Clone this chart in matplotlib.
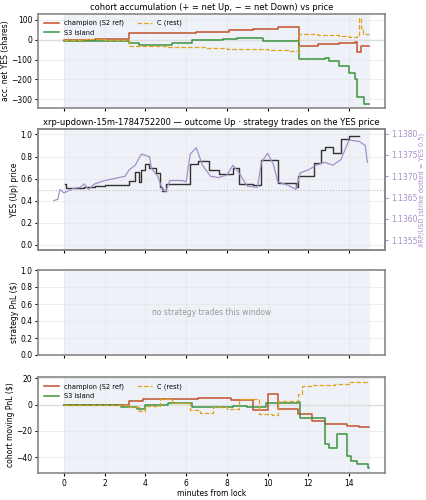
import matplotlib
matplotlib.use("Agg")
import matplotlib.pyplot as plt
import numpy as np

# panel 1: accumulation (step, post)
champ_t = [0, 1.5, 3.2, 6.5, 8.1, 9.3, 10.5, 11.55, 12.5, 13.5, 14.3, 14.4, 14.6, 15]
champ_v = [0, 5, 35, 40, 48, 55, 62, -30, -22, -15, -10, -60, -30, -30]
s3_t = [0, 3.2, 3.7, 5.3, 6.3, 7.8, 8.5, 9.0, 9.8, 11.55, 12.8, 13.0, 13.5, 14.0, 14.3, 14.4, 14.75, 15]
s3_v = [-8, -18, -25, -15, 0, 5, 10, 8, -5, -95, -90, -110, -135, -170, -200, -290, -325, -325]
c_t = [0, 1.0, 2.0, 3.2, 4.0, 5.0, 6.0, 7.0, 8.0, 9.0, 10.0, 11.0, 11.5, 11.55, 12.5, 13.0, 13.5, 14.0, 14.4, 14.5, 14.6, 14.7, 15]
c_v = [0, 2, -2, -30, -33, -38, -38, -42, -45, -48, -52, -56, -60, 30, 25, 22, 18, 15, 20, 110, 60, 30, 30]

# panel 2: YES price (step) and XRP/USD
yes_t = [0.05, 0.1, 1.0, 1.5, 2.0, 3.2, 3.5, 3.7, 3.8, 4.0, 4.2, 4.5, 4.7, 4.8, 5.0, 6.2, 6.6, 7.1, 7.6, 8.3, 8.6, 9.3, 9.7, 10.5, 11.4, 11.5, 12.3, 12.6, 12.8, 13.2, 13.6, 14.0, 14.5]
yes_v = [0.55, 0.51, 0.52, 0.53, 0.54, 0.58, 0.66, 0.57, 0.68, 0.73, 0.70, 0.65, 0.52, 0.49, 0.55, 0.73, 0.76, 0.68, 0.64, 0.70, 0.55, 0.54, 0.77, 0.56, 0.52, 0.62, 0.74, 0.86, 0.89, 0.83, 0.96, 0.99, 0.99]
xrp_t = [-0.5, -0.3, -0.2, 0, 0.5, 0.8, 1.0, 1.2, 1.5, 2, 2.5, 3, 3.2, 3.5, 3.8, 4.2, 4.3, 4.6, 4.8, 5.0, 5.2, 5.8, 6.0, 6.2, 6.5, 6.8, 7.2, 7.6, 8.0, 8.3, 8.6, 9.0, 9.5, 9.7, 10.0, 10.3, 10.5, 11.0, 11.4, 11.6, 12.0, 12.4, 12.8, 13.2, 13.6, 14.0, 14.5, 14.8, 14.9]
xrp_v = [1.13643, 1.13646, 1.13669, 1.13661, 1.13672, 1.13674, 1.13682, 1.13669, 1.13682, 1.13690, 1.13695, 1.13700, 1.13715, 1.13726, 1.13752, 1.13746, 1.13718, 1.13700, 1.13674, 1.13664, 1.13690, 1.13690, 1.13687, 1.13752, 1.13767, 1.13726, 1.13700, 1.13697, 1.13703, 1.13726, 1.13708, 1.13677, 1.13674, 1.13733, 1.13754, 1.13726, 1.13687, 1.13679, 1.13669, 1.13708, 1.13715, 1.13726, 1.13733, 1.13726, 1.13739, 1.13785, 1.13782, 1.13772, 1.13733]
strike = 1.13669

# panel 4: PnL
pc_t = [0, 3.2, 3.9, 6.6, 8.2, 9.3, 10.0, 10.5, 11.5, 12.2, 12.8, 13.4, 13.9, 14.5, 15]
pc_v = [0, 3, 4, 5, 3.5, -4, 8, -3.5, -7, -12.5, -15, -14.5, -16, -17, -17]
ps_t = [0, 2.8, 3.6, 4.0, 5.1, 6.3, 7.3, 8.3, 9.0, 9.9, 11.5, 11.6, 12.8, 13.0, 13.4, 13.9, 14.1, 14.4, 14.95, 15]
ps_v = [0, -1.5, -3, -0.5, 1.5, -2, -1.5, -1, -1.5, 1, 2, -10, -30, -33, -22, -39, -43, -45, -48, -48]
pr_t = [0, 3.2, 3.7, 4.0, 4.7, 5.3, 6.2, 6.7, 7.3, 8.0, 8.6, 9.6, 10.2, 10.5, 11.5, 11.7, 12.2, 13.3, 14.0, 15]
pr_v = [0, -2, -5, -1, 4, 1.5, -4, -6, -2, -3.5, 4, -7, -8, 3, 8, 14, 15, 16, 17, 17]

C_CH = "#c4522a"; C_S3 = "#3a943f"; C_C = "#e0a21c"; C_X = "#a58fc9"; SH = "#eef1f8"
FS = 5.5
plt.rcParams.update({"font.size": FS})
fig = plt.figure(figsize=(4.27, 5), dpi=100)
L, W = 0.089, 0.813
ax1 = fig.add_axes([L, 0.784, W, 0.188])
ax2 = fig.add_axes([L, 0.500, W, 0.242])
ax3 = fig.add_axes([L, 0.290, W, 0.170])
ax4 = fig.add_axes([L, 0.054, W, 0.192])
XL = (-1.275, 15.775)
for ax in (ax1, ax2, ax3, ax4):
    ax.axvspan(0, 15, color=SH, zorder=0)
    ax.set_xlim(*XL)
    ax.set_xticks(range(0, 15, 2))
    ax.grid(True, color="#e6e6e6", lw=0.5)
    ax.tick_params(labelsize=FS, length=2.5, pad=1.5)
    for s in ax.spines.values():
        s.set_color("#888888"); s.set_linewidth(1.2)
for ax in (ax1, ax2, ax3):
    ax.tick_params(labelbottom=False)

ax1.axhline(0, color="#dddddd", lw=1)
ax1.step(champ_t, champ_v, where="post", color=C_CH, lw=1.1, label="champion (S2 ref)")
ax1.step(s3_t, s3_v, where="post", color=C_S3, lw=1.1, label="S3 island")
ax1.step(c_t, c_v, where="post", color=C_C, lw=0.9, ls="--", label="C (rest)")
ax1.set_ylim(-345, 130)
ax1.set_yticks([-300, -200, -100, 0, 100])
ax1.set_ylabel("acc. net YES (shares)", labelpad=1)
ax1.set_title("cohort accumulation (+ = net Up, − = net Down) vs price", fontsize=6, pad=3)
ax1.legend(loc="upper left", ncol=2, fontsize=4.8, frameon=False, handlelength=2.2, columnspacing=2)

ax2.step(yes_t, yes_v, where="post", color="#333333", lw=1.0)
ax2.set_ylim(-0.05, 1.05)
ax2.set_ylabel("YES (Up) price", labelpad=1)
ax2.set_title("xrp-updown-15m-1784752200 — outcome Up · strategy trades on the YES price", fontsize=6, pad=3)
ax2r = ax2.twinx()
ax2r.plot(xrp_t, xrp_v, color=C_X, lw=0.9)
ax2r.axhline(strike, color="#bbbbbb", lw=0.8, ls=":")
ax2r.set_ylim(1.13527, 1.13811)
ax2r.set_yticks([1.1355, 1.1360, 1.1365, 1.1370, 1.1375, 1.1380])
ax2r.yaxis.set_major_formatter(matplotlib.ticker.FormatStrFormatter("%.4f"))
ax2r.tick_params(colors=C_X, labelsize=FS, length=2.5, pad=1.5)
ax2r.set_ylabel("XRP/USD (strike dotted = YES 0.5)", color=C_X, fontsize=4.8, labelpad=1)
for s in ax2r.spines.values():
    s.set_color("#888888"); s.set_linewidth(1.2)

ax3.set_ylim(0, 1)
ax3.set_ylabel("strategy PnL ($)", labelpad=1)
ax3.text(0.5, 0.5, "no strategy trades this window", transform=ax3.transAxes,
         ha="center", va="center", color="#999999", fontsize=FS)

ax4.axhline(0, color="#dddddd", lw=1)
ax4.step(pc_t, pc_v, where="post", color=C_CH, lw=1.1, label="champion (S2 ref)")
ax4.step(ps_t, ps_v, where="post", color=C_S3, lw=1.1, label="S3 island")
ax4.step(pr_t, pr_v, where="post", color=C_C, lw=0.9, ls="--", label="C (rest)")
ax4.set_ylim(-52, 21)
ax4.set_yticks([-40, -20, 0, 20])
ax4.set_ylabel("cohort moving PnL ($)", labelpad=1)
ax4.set_xlabel("minutes from lock", labelpad=1)
ax4.legend(loc="upper left", ncol=2, fontsize=4.8, frameon=False, handlelength=2.2, columnspacing=2)

fig.savefig("out.png", dpi=100)
